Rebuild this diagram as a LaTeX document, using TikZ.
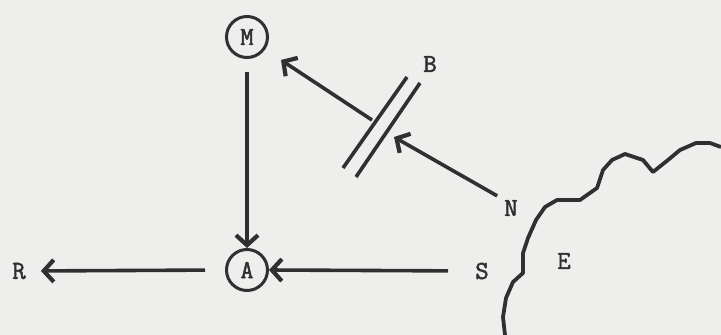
\documentclass[tikz,border=0pt]{standalone}
\usepackage{fontspec}
\newfontfamily\lblfont[FakeBold=1.8]{Latin Modern Mono}
\usetikzlibrary{arrows.meta}
\definecolor{bg}{HTML}{EEEEEC}
\definecolor{ink}{HTML}{303030}
\begin{document}
\begin{tikzpicture}[x=1pt,y=-1pt,
  lbl/.style={font=\fontsize{26}{26}\selectfont\lblfont, text=ink, inner sep=0pt},
  circ/.style={lbl, circle, draw=ink, line width=3pt, minimum size=41pt},
  conn/.style={draw=ink, line width=3.6pt, -{Straight Barb[length=10pt,width=22pt,line width=4.2pt]}},
  barline/.style={draw=ink, line width=3.6pt}]
\fill[bg] (0,0) rectangle (721,335);
\useasboundingbox (0,0) rectangle (721,335);
\node[circ] (M) at (247,37) {M};
\node[circ] (A) at (247,270) {A};
\node[lbl] (R) at (19,271) {R};
\node[lbl] (S) at (482,271) {S};
\node[lbl] (N) at (511,208) {N};
\node[lbl] (B) at (430,64) {B};
\node[lbl] (E) at (564,261) {E};
\coordinate (b1a) at (343,168);
\coordinate (b1b) at (407,77);
\coordinate (b2a) at (356,177);
\coordinate (b2b) at (420,83);
\draw[barline] (b1a) -- (b1b);
\draw[barline] (b2a) -- (b2b);
\coordinate (fromB) at (372,120);
\coordinate (toM) at (281,60);
\coordinate (toB) at (394,137);
\draw[conn] (M.south) ++(0,13) -- (A.north);
\draw[conn, shorten <=20pt, shorten >=15pt] (A.west) -- (R.east);
\draw[conn, shorten <=27pt] (S.west) -- (A.east);
\draw[conn] (fromB) -- (toM);
\draw[conn, shorten <=8pt] (N.north west) -- (toB);
\draw[ink, line width=3.8pt, line join=round]
  (721,147) -- (710,143) -- (696,143) -- (680,150) -- (668,160) -- (653,172)
  -- (643,160) -- (625,154) -- (612,160) -- (603,170) -- (597,188)
  -- (580,200) -- (557,200) -- (545,207) -- (536,220) -- (528,238)
  -- (523,253) -- (523,273) -- (513,282) -- (506,298) -- (503,317) -- (505,335);
\end{tikzpicture}
\end{document}
